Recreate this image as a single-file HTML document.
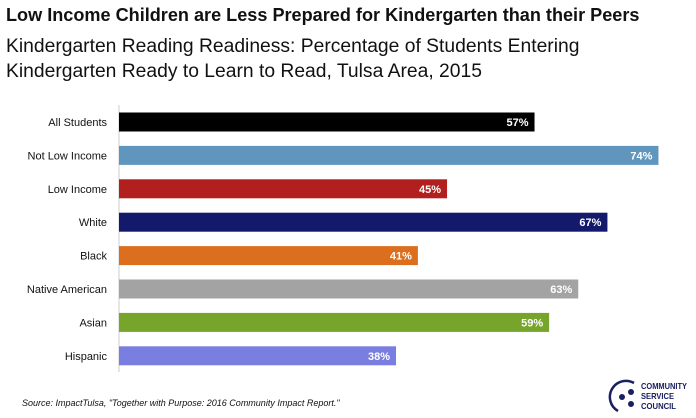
<!DOCTYPE html>
<html><head><meta charset="utf-8"><style>
body{margin:0;width:696px;height:417px;background:#fff;font-family:"Liberation Sans",sans-serif;overflow:hidden;position:relative}
.t{position:absolute;left:6px;white-space:nowrap;color:#111}
</style></head><body>
<div class="t" style="top:5px;font-size:18.1px;font-weight:bold">Low Income Children are Less Prepared for Kindergarten than their Peers</div>
<div class="t" style="top:34px;font-size:19.3px;line-height:25px">Kindergarten Reading Readiness: Percentage of Students Entering<br>Kindergarten Ready to Learn to Read, Tulsa Area, 2015</div>
<svg id="c" width="696" height="417" style="position:absolute;left:0;top:0"></svg>
<div class="t" style="top:398px;left:22px;font-size:9px;font-style:italic">Source: ImpactTulsa, "Together with Purpose: 2016 Community Impact Report."</div>
<div style="position:absolute;left:604px;top:377px;width:90px;height:36px">
<svg width="90" height="36"><path d="M14 34 A16 16 0 0 1 30 6" stroke="#1a2060" stroke-width="2.5" fill="none"/><circle cx="18" cy="20" r="3" fill="#1a2060"/><circle cx="27" cy="15" r="3" fill="#1a2060"/><circle cx="27" cy="27" r="3" fill="#1a2060"/>
<text x="37" y="12" font-size="8.5" font-weight="bold" fill="#1a2060" textLength="46" lengthAdjust="spacingAndGlyphs">COMMUNITY</text>
<text x="37" y="22" font-size="8.5" font-weight="bold" fill="#1a2060" textLength="33" lengthAdjust="spacingAndGlyphs">SERVICE</text>
<text x="37" y="32" font-size="8.5" font-weight="bold" fill="#1a2060" textLength="35" lengthAdjust="spacingAndGlyphs">COUNCIL</text></svg></div>
<script>
const categories=["All Students","Not Low Income","Low Income","White","Black","Native American","Asian","Hispanic"];
const values=[57,74,45,67,41,63,59,38];
const colors=["#000000","#6096bd","#b21f1f","#141a6b","#dc6f1e","#a3a3a3","#77a52c","#7a7ee0"];
const NS="http://www.w3.org/2000/svg",svg=document.getElementById("c");
const x=v=>119+v*7.29, yc=i=>122+i*33.4;
function mk(t,a){const e=document.createElementNS(NS,t);for(const k in a)e.setAttribute(k,a[k]);svg.appendChild(e);return e;}
const ax=mk("line",{x1:119,x2:119,y1:105,y2:372,stroke:"#ccc","stroke-width":1});


categories.forEach((c,i)=>{
 const r=mk("rect",{x:119,y:yc(i)-9.5,width:x(values[i])-119,height:19,fill:colors[i]});
 
 
 const l=mk("text",{x:107,y:yc(i)+4,"text-anchor":"end","font-size":11,fill:"#111"});l.textContent=c;
 
 
 const v=mk("text",{x:x(values[i])-6,y:yc(i)+4,"text-anchor":"end","font-size":11,"font-weight":"bold",fill:"#fff"});v.textContent=values[i]+"%";
 
 
});
</script>
</body></html>
